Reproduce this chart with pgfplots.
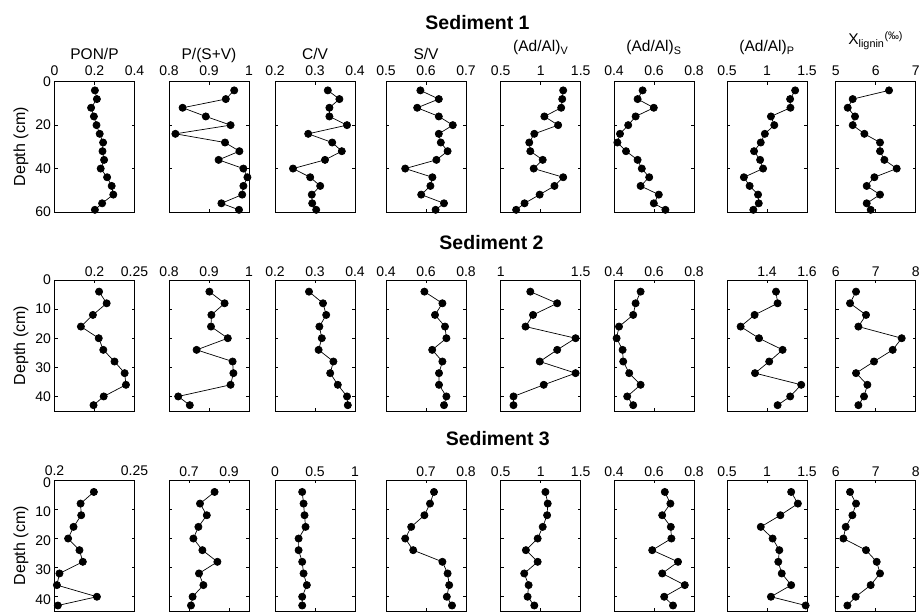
\documentclass[border=0pt]{standalone}
\usepackage{pgfplots}
\pgfplotsset{compat=1.18}
\usepackage{pgfplotstable}
\usepackage{fontspec}
\setmainfont{Liberation Sans}

\pgfplotstableread{
d PON PSV CV SV AV AS AP XL
4 0.202 0.963 0.332 0.586 1.281 0.543 1.352 6.333
8 0.212 0.942 0.361 0.632 1.269 0.518 1.289 5.425
12 0.183 0.834 0.336 0.578 1.256 0.599 1.293 5.300
16 0.197 0.892 0.336 0.632 1.046 0.508 1.049 5.483
20 0.210 0.954 0.380 0.667 1.218 0.471 1.091 5.425
24 0.226 0.816 0.283 0.632 0.920 0.430 0.973 5.717
28 0.243 0.940 0.343 0.637 0.857 0.417 0.922 6.108
32 0.240 0.976 0.367 0.654 0.870 0.460 0.838 6.108
36 0.248 0.924 0.325 0.626 1.025 0.518 0.914 6.217
40 0.231 0.986 0.245 0.548 0.912 0.539 0.951 6.525
44 0.263 0.996 0.288 0.616 1.281 0.576 0.711 5.967
48 0.286 0.986 0.313 0.611 1.172 0.533 0.783 5.775
52 0.294 0.983 0.292 0.588 0.987 0.624 0.888 6.108
56 0.238 0.931 0.293 0.645 0.798 0.599 0.897 5.775
59 0.202 0.975 0.303 0.624 0.693 0.657 0.829 5.875
}\rowone

\pgfplotstableread{
d PON PSV CV SV AV AS AP XL
4 0.2057 0.901 0.285 0.592 1.185 0.533 1.445 6.508
8 0.2152 0.939 0.320 0.682 1.353 0.508 1.453 6.358
12 0.1980 0.906 0.328 0.645 1.202 0.496 1.338 6.758
16 0.1830 0.905 0.311 0.695 1.155 0.425 1.268 6.567
20 0.2053 0.947 0.317 0.702 1.468 0.413 1.360 7.650
24 0.2110 0.869 0.309 0.631 1.353 0.443 1.478 7.425
28 0.2250 0.959 0.346 0.682 1.244 0.446 1.411 6.958
32 0.2377 0.961 0.338 0.665 1.468 0.476 1.340 6.508
36 0.2393 0.954 0.357 0.665 1.269 0.533 1.571 6.792
40 0.2115 0.823 0.380 0.702 1.080 0.466 1.516 6.708
43 0.1988 0.852 0.382 0.690 1.080 0.496 1.453 6.567
}\rowtwo

\pgfplotstableread{
d PON PSV CV SV AV AS AP XL
4 0.2246 0.828 0.340 0.720 1.059 0.654 1.302 6.358
8 0.2163 0.755 0.357 0.710 1.088 0.682 1.386 6.508
12 0.2167 0.789 0.369 0.696 1.080 0.641 1.167 6.417
16 0.2119 0.747 0.382 0.663 1.025 0.684 0.922 6.250
20 0.2085 0.722 0.295 0.648 0.962 0.687 1.070 6.192
24 0.2156 0.767 0.295 0.668 0.815 0.591 1.154 6.758
28 0.2177 0.842 0.340 0.741 0.962 0.720 1.141 7.025
32 0.2031 0.750 0.357 0.754 0.794 0.641 1.184 7.108
36 0.2015 0.772 0.398 0.758 0.849 0.754 1.302 6.875
40 0.2265 0.718 0.340 0.752 0.836 0.651 1.049 6.500
43 0.2021 0.710 0.340 0.765 0.920 0.695 1.483 6.292
}\rowthree

\pgfplotsset{
  panel/.style={
    scale only axis, width=80pt, anchor=north west, y dir=reverse, ymin=0, clip=false,
    xtick pos=both, ytick pos=both, xticklabel pos=upper, tick align=inside,
    major tick length=3pt, minor tick num=0,
    axis line style={line width=0.9pt},
    every tick/.style={black, line width=0.6pt},
    tick label style={font=\fontsize{14}{16}\selectfont},
    /pgf/number format/assume math mode=true,
    every axis plot post/.append style={black, line width=0.7pt, mark=*, mark size=3.6pt, mark options={solid, fill=black}},
    every axis title/.style={at={(0.5,1)}, anchor=base, yshift=22.4pt, font=\fontsize{15.5}{17}\selectfont},
    ylabel style={font=\fontsize{16}{18}\selectfont},
  },
  noyl/.style={yticklabels={}},
  r1/.style={height=130.3pt, ymax=60, ytick={0,20,40,60}, xticklabel style={yshift=3pt}},
  r23/.style={height=131pt, ymax=45, ytick={0,10,20,30,40}},
  sub/.style={title style={yshift=7.6pt}},
  xl/.style={title style={yshift=14.3pt}},
}

\begin{document}
\begin{tikzpicture}
% ---------------- Row 1 ----------------
\begin{axis}[panel, r1, at={(54.5pt,529.3pt)}, xmin=0, xmax=0.4, xtick={0,0.2,0.4}, title={PON/P}, ylabel={Depth (cm)}]
\addplot table[x=PON,y=d]{\rowone};
\end{axis}
\begin{axis}[panel, r1, noyl, at={(169pt,529.3pt)}, xmin=0.8, xmax=1, xtick={0.8,0.9,1}, title={P/(S+V)}]
\addplot table[x=PSV,y=d]{\rowone};
\end{axis}
\begin{axis}[panel, r1, noyl, at={(275pt,529.3pt)}, xmin=0.2, xmax=0.4, xtick={0.2,0.3,0.4}, title={C/V}]
\addplot table[x=CV,y=d]{\rowone};
\end{axis}
\begin{axis}[panel, r1, noyl, at={(386pt,529.3pt)}, xmin=0.5, xmax=0.7, xtick={0.5,0.6,0.7}, title={S/V}]
\addplot table[x=SV,y=d]{\rowone};
\end{axis}
\begin{axis}[panel, r1, noyl, sub, at={(500.7pt,529.3pt)}, xmin=0.5, xmax=1.5, xtick={0.5,1,1.5}, title={(Ad/Al)\textsubscript{V}}]
\addplot table[x=AV,y=d]{\rowone};
\end{axis}
\begin{axis}[panel, r1, noyl, sub, at={(614pt,529.3pt)}, xmin=0.4, xmax=0.8, xtick={0.4,0.6,0.8}, title={(Ad/Al)\textsubscript{S}}]
\addplot table[x=AS,y=d]{\rowone};
\end{axis}
\begin{axis}[panel, r1, noyl, sub, at={(727pt,529.3pt)}, xmin=0.5, xmax=1.5, xtick={0.5,1,1.5}, title={(Ad/Al)\textsubscript{P}}]
\addplot table[x=AP,y=d]{\rowone};
\end{axis}
\begin{axis}[panel, r1, noyl, xl, at={(835.7pt,529.3pt)}, xmin=5, xmax=7, xtick={5,6,7}, title={X\textsubscript{lignin}\textsuperscript{(‰)}}]
\addplot table[x=XL,y=d]{\rowone};
\end{axis}
% ---------------- Row 2 ----------------
\begin{axis}[panel, r23, at={(54.5pt,331pt)}, xmin=0.15, xmax=0.25, xtick={0.2,0.25}, ylabel={Depth (cm)}]
\addplot table[x=PON,y=d]{\rowtwo};
\end{axis}
\begin{axis}[panel, r23, noyl, at={(169pt,331pt)}, xmin=0.8, xmax=1, xtick={0.8,0.9,1}]
\addplot table[x=PSV,y=d]{\rowtwo};
\end{axis}
\begin{axis}[panel, r23, noyl, at={(275pt,331pt)}, xmin=0.2, xmax=0.4, xtick={0.2,0.3,0.4}]
\addplot table[x=CV,y=d]{\rowtwo};
\end{axis}
\begin{axis}[panel, r23, noyl, at={(386pt,331pt)}, xmin=0.4, xmax=0.8, xtick={0.4,0.6,0.8}]
\addplot table[x=SV,y=d]{\rowtwo};
\end{axis}
\begin{axis}[panel, r23, noyl, at={(500.7pt,331pt)}, xmin=1, xmax=1.5, xtick={1,1.5}]
\addplot table[x=AV,y=d]{\rowtwo};
\end{axis}
\begin{axis}[panel, r23, noyl, at={(614pt,331pt)}, xmin=0.4, xmax=0.8, xtick={0.4,0.6,0.8}]
\addplot table[x=AS,y=d]{\rowtwo};
\end{axis}
\begin{axis}[panel, r23, noyl, at={(727pt,331pt)}, xmin=1.2, xmax=1.6, xtick={1.4,1.6}]
\addplot table[x=AP,y=d]{\rowtwo};
\end{axis}
\begin{axis}[panel, r23, noyl, at={(835.7pt,331pt)}, xmin=6, xmax=8, xtick={6,7,8}]
\addplot table[x=XL,y=d]{\rowtwo};
\end{axis}
% ---------------- Row 3 ----------------
\begin{axis}[panel, r23, at={(54.5pt,130.7pt)}, xmin=0.2, xmax=0.25, xtick={0.2,0.25}, ylabel={Depth (cm)}, yticklabel style={yshift=-2.5pt}, xticklabel style={yshift=1.5pt}]
\addplot table[x=PON,y=d]{\rowthree};
\end{axis}
\begin{axis}[panel, r23, noyl, at={(169pt,130.7pt)}, xmin=0.6, xmax=1, xtick={0.7,0.9}]
\addplot table[x=PSV,y=d]{\rowthree};
\end{axis}
\begin{axis}[panel, r23, noyl, at={(275pt,130.7pt)}, xmin=0, xmax=1, xtick={0,0.5,1}]
\addplot table[x=CV,y=d]{\rowthree};
\end{axis}
\begin{axis}[panel, r23, noyl, at={(386pt,130.7pt)}, xmin=0.6, xmax=0.8, xtick={0.7,0.8}]
\addplot table[x=SV,y=d]{\rowthree};
\end{axis}
\begin{axis}[panel, r23, noyl, at={(500.7pt,130.7pt)}, xmin=0.5, xmax=1.5, xtick={0.5,1,1.5}]
\addplot table[x=AV,y=d]{\rowthree};
\end{axis}
\begin{axis}[panel, r23, noyl, at={(614pt,130.7pt)}, xmin=0.4, xmax=0.8, xtick={0.4,0.6,0.8}]
\addplot table[x=AS,y=d]{\rowthree};
\end{axis}
\begin{axis}[panel, r23, noyl, at={(727pt,130.7pt)}, xmin=0.5, xmax=1.5, xtick={0.5,1,1.5}]
\addplot table[x=AP,y=d]{\rowthree};
\end{axis}
\begin{axis}[panel, r23, noyl, at={(835.7pt,130.7pt)}, xmin=6, xmax=8, xtick={6,7,8}]
\addplot table[x=XL,y=d]{\rowthree};
\end{axis}
% ---------------- Group titles ----------------
\node[anchor=base, font=\fontsize{19.5}{22}\selectfont\bfseries] at (477.5pt,581pt) {Sediment 1};
\node[anchor=base, font=\fontsize{19.5}{22}\selectfont\bfseries] at (491.5pt,361.7pt) {Sediment 2};
\node[anchor=base, font=\fontsize{19.5}{22}\selectfont\bfseries] at (497.8pt,165.3pt) {Sediment 3};
\pgfresetboundingbox
\useasboundingbox (0,0) rectangle (921pt,611pt);
\end{tikzpicture}
\end{document}
